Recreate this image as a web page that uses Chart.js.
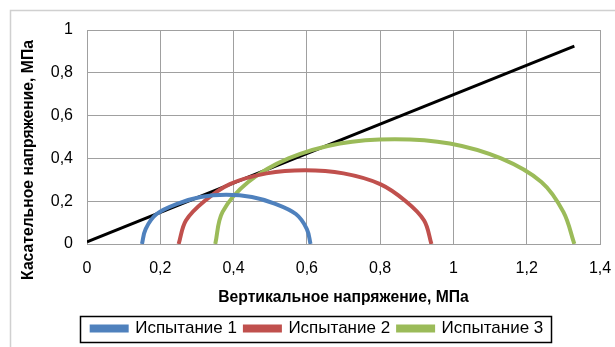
<!DOCTYPE html>
<html>
<head>
<meta charset="utf-8">
<script src="https://cdn.jsdelivr.net/npm/chart.js@4.4.1/dist/chart.umd.min.js"></script>
<style>
  html, body { margin: 0; padding: 0; background: #ffffff; }
  #wrap { width: 615px; height: 347px; position: relative; }
</style>
</head>
<body>
<div id="wrap"><canvas id="c" width="615" height="347"></canvas></div>
<script>
// Mohr circles for three shear tests and the strength envelope
const seriesNames = ['Испытание 1', 'Испытание 2', 'Испытание 3'];
const seriesColors = ['#4F81BD', '#C0504D', '#9BBB59'];

// normal stress σ, MPa / shear stress τ, MPa
const test1Sigma = [0.15, 0.16, 0.19, 0.25, 0.31, 0.38, 0.45, 0.51, 0.57, 0.60, 0.61];
const test1Tau   = [0, 0.07, 0.14, 0.19, 0.22, 0.23, 0.22, 0.19, 0.14, 0.07, 0];

const test2Sigma = [0.25, 0.27, 0.32, 0.39, 0.49, 0.595, 0.70, 0.80, 0.87, 0.92, 0.94];
const test2Tau   = [0, 0.11, 0.20, 0.28, 0.33, 0.345, 0.33, 0.28, 0.20, 0.11, 0];

const test3Sigma = [0.35, 0.37, 0.44, 0.55, 0.69, 0.84, 0.99, 1.13, 1.24, 1.30, 1.33];
const test3Tau   = [0, 0.15, 0.29, 0.40, 0.47, 0.49, 0.47, 0.40, 0.29, 0.15, 0];

// strength envelope
const envelopeSigma = [0, 1.33];
const envelopeTau   = [0.01, 0.925];

const xTickLabels = ['0', '0,2', '0,4', '0,6', '0,8', '1', '1,2', '1,4'];
const yTickLabels = ['0', '0,2', '0,4', '0,6', '0,8', '1'];

const xTitle = 'Вертикальное напряжение, МПа';
const yTitle = 'Касательное напряжение, МПа';

const FONT = "'Liberation Sans', Arial, sans-serif";

function toPoints(xs, ys) {
  return xs.map((x, i) => ({ x: x, y: ys[i] }));
}

const circleSets = [
  [test1Sigma, test1Tau],
  [test2Sigma, test2Tau],
  [test3Sigma, test3Tau]
];

const datasets = circleSets.map((s, i) => ({
  label: seriesNames[i],
  data: toPoints(s[0], s[1]),
  showLine: true,
  borderColor: seriesColors[i],
  backgroundColor: seriesColors[i],
  borderWidth: 4,
  pointRadius: 0,
  tension: 0.36,
  fill: false
}));

datasets.push({
  label: 'envelope',
  data: toPoints(envelopeSigma, envelopeTau),
  showLine: true,
  borderColor: '#000000',
  backgroundColor: '#000000',
  borderWidth: 3,
  pointRadius: 0,
  tension: 0,
  fill: false
});

// outer frame of the chart object
const framePlugin = {
  id: 'frame',
  beforeDraw(chart) {
    const ctx = chart.ctx;
    ctx.save();
    ctx.fillStyle = '#ffffff';
    ctx.fillRect(0, 0, chart.width, chart.height);
    ctx.strokeStyle = '#d0d0d0';
    ctx.lineWidth = 1.5;
    ctx.strokeRect(10.5, 10.5, 700, 400);
    ctx.restore();
  }
};

// vertical axis title and legend frame
const extrasPlugin = {
  id: 'extras',
  afterDraw(chart) {
    const ctx = chart.ctx;
    ctx.save();
    ctx.fillStyle = '#000000';
    ctx.font = 'bold 15.7px ' + FONT;
    ctx.textAlign = 'center';
    ctx.textBaseline = 'middle';
    ctx.translate(29, 160);
    ctx.rotate(-Math.PI / 2);
    ctx.fillText(yTitle, 0, 0);
    ctx.restore();

    const boxes = chart.legend && chart.legend.legendHitBoxes;
    if (boxes && boxes.length) {
      let minX = Infinity, maxX = -Infinity, cy = 0;
      boxes.forEach(b => {
        minX = Math.min(minX, b.left);
        maxX = Math.max(maxX, b.left + b.width);
        cy = b.top + b.height / 2;
      });
      ctx.save();
      ctx.strokeStyle = '#000000';
      ctx.lineWidth = 1.5;
      ctx.strokeRect(Math.round(minX - 12) + 0.5, Math.round(cy - 13) + 0.5, Math.round(maxX - minX + 19), 26);
      ctx.restore();
    }
  }
};

new Chart(document.getElementById('c'), {
  type: 'scatter',
  data: { datasets: datasets },
  plugins: [framePlugin, extrasPlugin],
  options: {
    responsive: false,
    animation: false,
    layout: { padding: { left: 35, right: 15, top: 30, bottom: 0 } },
    plugins: {
      tooltip: { enabled: false },
      legend: {
        display: true,
        position: 'bottom',
        labels: {
          filter: item => item.datasetIndex < 3,
          boxWidth: 35,
          boxHeight: 4,
          padding: 8,
          color: '#000000',
          font: { family: FONT, size: 17 }
        }
      }
    },
    scales: {
      x: {
        type: 'linear',
        min: 0,
        max: 1.4,
        afterFit(scale) {
          scale.height = 68;
          scale.paddingLeft = 0;
          scale.paddingRight = 0;
        },
        ticks: {
          stepSize: 0.2,
          padding: 15,
          color: '#000000',
          font: { family: FONT, size: 16 },
          maxRotation: 0,
          callback: (v, i) => xTickLabels[i]
        },
        grid: { color: '#a0a0a0', lineWidth: 1, drawTicks: false },
        border: { color: '#a0a0a0', width: 1 },
        title: {
          display: true,
          text: xTitle,
          color: '#000000',
          font: { family: FONT, size: 15.7, weight: 'bold' },
          padding: { top: 0, bottom: 5 }
        }
      },
      y: {
        type: 'linear',
        min: 0,
        max: 1,
        afterFit(scale) {
          scale.width = 52;
          scale.paddingTop = 0;
          scale.paddingBottom = 0;
        },
        ticks: {
          stepSize: 0.2,
          padding: 14,
          color: '#000000',
          font: { family: FONT, size: 16 },
          callback: (v, i) => yTickLabels[i]
        },
        grid: { color: '#a0a0a0', lineWidth: 1, drawTicks: false },
        border: { color: '#a0a0a0', width: 1 }
      }
    }
  }
});
</script>
</body>
</html>
